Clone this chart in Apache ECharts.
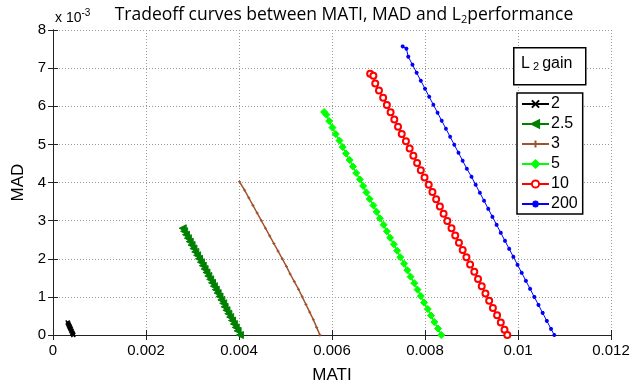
<!DOCTYPE html>
<html><head><meta charset="utf-8">
<script src="https://cdn.jsdelivr.net/npm/echarts@6/dist/echarts.min.js"></script>
<style>html,body{margin:0;padding:0;background:#fff}#c{width:634px;height:392px}</style>
</head><body><div id="c"></div>
<script>
// ---- data (MATI in seconds, MAD in units of 1e-3) ----
const seriesNames = ['2', '2.5', '3', '5', '10', '200'];

const mati_2 = [0.000316,0.000327,0.000338,0.000349,0.000360,0.000371,0.000382,0.000393,0.000404,0.000415,0.000426,0.000437];
const mad_2  = [0.33,0.30,0.27,0.24,0.21,0.18,0.15,0.12,0.09,0.06,0.03,0];

const mati_25 = [0.00279,0.00282,0.00286,0.00290,0.00294,0.00298,0.00302,0.00306,0.00310,0.00314,0.00318,0.00322,0.00326,0.00330,0.00334,0.00338,0.00342,0.00346,0.00350,0.00354,0.00358,0.00362,0.00366,0.00369,0.00373,0.00377,0.00381,0.00385,0.00389,0.00393,0.00397,0.00402];
const mad_25  = [2.80,2.72,2.63,2.54,2.45,2.36,2.27,2.18,2.09,2.00,1.91,1.82,1.73,1.64,1.55,1.46,1.37,1.28,1.19,1.10,1.01,0.92,0.83,0.74,0.65,0.56,0.47,0.38,0.29,0.20,0.11,0];

const mati_3 = [0.00401,0.00412,0.00421,0.00430,0.00439,0.00448,0.00457,0.00466,0.00475,0.00484,0.00493,0.00502,0.00510,0.00519,0.00528,0.00536,0.00544,0.00552,0.00560,0.00567,0.00574];
const mad_3  = [4.02,3.80,3.60,3.40,3.20,3.00,2.80,2.60,2.40,2.20,2.00,1.80,1.60,1.40,1.20,1.00,0.80,0.60,0.40,0.20,0];

const mati_5 = [0.00583,0.00588,0.00594,0.00601,0.00608,0.00616,0.00623,0.00630,0.00638,0.00645,0.00652,0.00660,0.00667,0.00674,0.00681,0.00689,0.00696,0.00703,0.00711,0.00718,0.00725,0.00733,0.00740,0.00747,0.00755,0.00762,0.00769,0.00777,0.00784,0.00791,0.00798,0.00806,0.00813,0.00820,0.00828,0.00835];
const mad_5  = [5.85,5.78,5.61,5.44,5.27,5.10,4.93,4.76,4.59,4.42,4.25,4.08,3.91,3.74,3.57,3.40,3.23,3.06,2.89,2.72,2.55,2.38,2.21,2.04,1.87,1.70,1.53,1.36,1.19,1.02,0.85,0.68,0.51,0.34,0.17,0];

const mati_10 = [0.00682,0.00689,0.00693,0.00701,0.00710,0.00718,0.00726,0.00734,0.00742,0.00750,0.00759,0.00767,0.00775,0.00783,0.00791,0.00799,0.00808,0.00816,0.00824,0.00832,0.00840,0.00848,0.00857,0.00865,0.00873,0.00881,0.00889,0.00897,0.00906,0.00914,0.00922,0.00930,0.00938,0.00946,0.00955,0.00963,0.00971,0.00977];
const mad_10  = [6.85,6.80,6.60,6.41,6.22,6.03,5.84,5.65,5.46,5.27,5.08,4.89,4.70,4.51,4.32,4.13,3.94,3.75,3.56,3.37,3.18,2.99,2.80,2.61,2.42,2.23,2.04,1.85,1.66,1.47,1.28,1.09,0.90,0.71,0.52,0.33,0.14,0];

const mati_200 = [0.00752,0.00760,0.00764,0.00773,0.00782,0.00791,0.00800,0.00809,0.00818,0.00827,0.00836,0.00845,0.00854,0.00863,0.00872,0.00881,0.00890,0.00900,0.00909,0.00918,0.00927,0.00936,0.00945,0.00954,0.00963,0.00972,0.00981,0.00990,0.00999,0.01008,0.01017,0.01026,0.01035,0.01044,0.01053,0.01062,0.01071,0.01078];
const mad_200  = [7.57,7.51,7.30,7.09,6.88,6.67,6.46,6.25,6.04,5.83,5.62,5.41,5.20,4.99,4.78,4.57,4.36,4.15,3.94,3.73,3.52,3.31,3.10,2.89,2.68,2.47,2.26,2.05,1.84,1.63,1.42,1.21,1.00,0.79,0.58,0.37,0.16,0];

const xTickLabels = ['0','0.002','0.004','0.006','0.008','0.01','0.012'];
const yTickLabels = ['0','1','2','3','4','5','6','7','8'];

// ---- chart ----
const zip = (a, b) => a.map((v, i) => [v, b[i]]);
const FONT = '"Liberation Sans", Arial, sans-serif';
const TFONT = '"Open Sans", "Noto Sans", sans-serif';
const chart = echarts.init(document.getElementById('c'), null, {renderer: 'canvas'});

const SYM_X = 'path://M0,0L10,10M10,0L0,10';
const SYM_PLUS = 'path://M5,0L5,10M0,5L10,5';
const SYM_STAR = 'path://M5,0L5,10M0,5L10,5M1.5,1.5L8.5,8.5M8.5,1.5L1.5,8.5';

function mk(name, data, color, symbol, size, lw, opts) {
  return Object.assign({
    name, type: 'line', data, symbol, symbolSize: size,
    showAllSymbol: true, animation: false,
    lineStyle: {color, width: lw},
    itemStyle: {color, borderColor: color, borderWidth: 1},
    emphasis: {disabled: true}, z: 5
  }, opts || {});
}

const series = [
  mk(seriesNames[0], zip(mati_2, mad_2), '#000000', SYM_X, 4, 3, {itemStyle:{color:'#000',borderColor:'#000',borderWidth:1.5}}),
  mk(seriesNames[1], zip(mati_25, mad_25), '#008000', 'triangle', 7, 1.5, {symbolRotate: 90}),
  mk(seriesNames[2], zip(mati_3, mad_3), '#a0522d', SYM_PLUS, 3, 1.5),
  mk(seriesNames[3], zip(mati_5, mad_5), '#00ff00', 'diamond', 7, 1.5),
  mk(seriesNames[4], zip(mati_10, mad_10), '#ff0000', 'emptyCircle', 6, 1.5, {itemStyle:{color:'#ff0000',borderColor:'#ff0000',borderWidth:1.3}}),
  mk(seriesNames[5], zip(mati_200, mad_200), '#0000ff', SYM_STAR, 4, 1, {itemStyle:{color:'#00f',borderColor:'#0000ff',borderWidth:1.2}})
];

const axisLineStyle = {show: true, lineStyle: {color: '#222', width: 1}};
const splitLine = {show: true, lineStyle: {color: '#9a9a9a', type: [1, 2], width: 1}};

chart.setOption({
  backgroundColor: '#fff',
  animation: false,
  title: {
    text: '{a|Tradeoff curves between MATI, MAD and L}{s|2}{a|performance}',
    left: 339, top: 0, textAlign: 'center',
    textStyle: {
      fontWeight: 'normal',
      rich: {
        a: {fontFamily: TFONT, fontSize: 17.5, fontWeight: 'normal', color: '#000'},
        s: {fontFamily: TFONT, fontSize: 11, fontWeight: 'normal', color: '#000', padding: [9,0,0,0]}
      }
    }
  },
  grid: {left: 53, right: 23, top: 30, bottom: 57, containLabel: false},
  xAxis: [{
    type: 'value', min: 0, max: 0.012, interval: 0.002,
    name: 'MATI', nameLocation: 'middle', nameGap: 32,
    nameTextStyle: {fontFamily: FONT, fontSize: 17, color: '#000'},
    axisLine: axisLineStyle,
    axisTick: {show: true, inside: true, length: 5, lineStyle: {color: '#222'}},
    axisLabel: {fontFamily: FONT, fontSize: 15, color: '#000', margin: 8,
      formatter: (v) => xTickLabels[Math.round(v / 0.002)]},
    splitLine
  }, {
    type: 'value', min: 0, max: 0.012, interval: 0.002, position: 'top',
    axisLine: axisLineStyle,
    axisTick: {show: true, inside: true, length: 5, lineStyle: {color: '#222'}},
    axisLabel: {show: false}, splitLine: {show: false}
  }],
  yAxis: [{
    type: 'value', min: 0, max: 8, interval: 1,
    name: 'MAD', nameLocation: 'middle', nameGap: 26, nameRotate: 90,
    nameTextStyle: {fontFamily: FONT, fontSize: 17, color: '#000'},
    axisLine: axisLineStyle,
    axisTick: {show: true, inside: true, length: 5, lineStyle: {color: '#222'}},
    axisLabel: {fontFamily: FONT, fontSize: 15, color: '#000', margin: 7,
      formatter: (v) => yTickLabels[Math.round(v)]},
    splitLine
  }, {
    type: 'value', min: 0, max: 8, interval: 1, position: 'right',
    axisLine: axisLineStyle,
    axisTick: {show: true, inside: true, length: 5, lineStyle: {color: '#222'}},
    axisLabel: {show: false}, splitLine: {show: false}
  }],
  legend: {
    orient: 'vertical', left: 517, top: 93,
    data: seriesNames,
    itemWidth: 27, itemHeight: 9, itemGap: 4,
    padding: [3, 5, 2, 4],
    borderColor: '#000', borderWidth: 1.5, backgroundColor: '#fff',
    textStyle: {fontFamily: FONT, fontSize: 16, color: '#000', padding: [0,0,0,-3]},
    selectedMode: false
  },
  graphic: [
    {type: 'rect', left: 513, top: 47, shape: {width: 72, height: 37},
      style: {fill: '#fff', stroke: '#000', lineWidth: 1.5}, z: 10},
    {type: 'text', left: 521, top: 56, z: 11,
      style: {text: '{a|L}{s| 2 }{a|gain}', rich: {
        a: {fontFamily: FONT, fontSize: 16, fill: '#000'},
        s: {fontFamily: FONT, fontSize: 11, fill: '#000', padding: [6,0,0,0]}
      }}},
    {type: 'text', left: 55, top: 8, z: 11,
      style: {text: '{a|x 10}{s|-3}', rich: {
        a: {fontFamily: FONT, fontSize: 14, fill: '#000', padding: [6,0,0,0]},
        s: {fontFamily: FONT, fontSize: 10, fill: '#000', padding: [0,0,4,0]}
      }}}
  ],
  series
});
</script></body></html>
